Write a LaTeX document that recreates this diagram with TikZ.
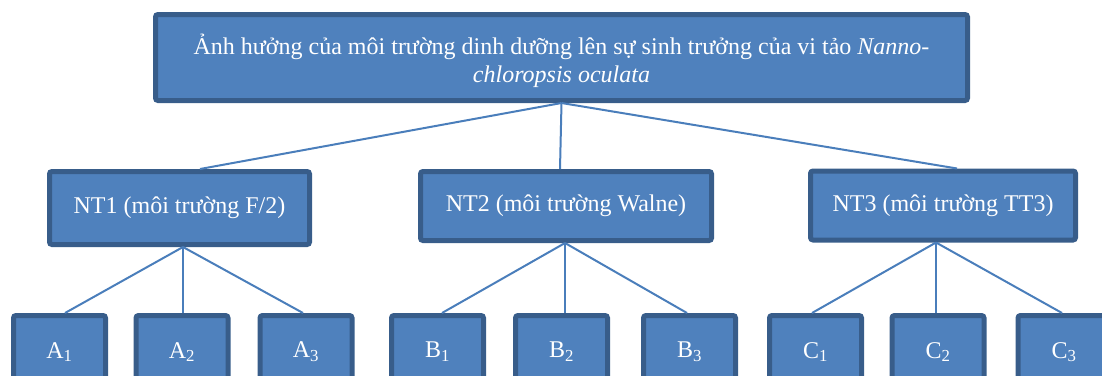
\documentclass[tikz,border=0pt]{standalone}
\usepackage{fontspec}
\setmainfont{Liberation Serif}
\usetikzlibrary{calc}
\definecolor{boxfill}{HTML}{4F81BD}
\definecolor{boxline}{HTML}{385D8A}
\definecolor{connc}{HTML}{4A7EBB}
\tikzset{
  box/.style={draw=boxline, fill=boxfill, line width=5pt, rounded corners=2.5pt,
    text=white, font=\fontsize{24}{28}\selectfont, inner sep=0pt, align=center},
  leaf/.style={box, minimum width=92pt, minimum height=73pt},
  conn/.style={draw=connc, line width=2pt}
}
\begin{document}
\begin{tikzpicture}[x=1pt,y=-1pt]
\useasboundingbox (0,0) rectangle (1102,375);
\clip (0,0) rectangle (1102,375);
\node[box, minimum width=812pt, minimum height=86pt] (top) at (561.5,57.5)
  {\rule{0pt}{27pt}Ảnh hưởng của môi trường dinh dưỡng lên sự sinh trưởng của vi tảo \textit{Nanno-}\\\textit{chloropsis oculata}};
\node[box, minimum width=260pt, minimum height=73pt] (nt1) at (179.5,208) {NT1 (môi trường F/2)};
\node[box, minimum width=291pt, minimum height=69pt] (nt2) at (566,206) {NT2 (môi trường Walne)};
\node[box, minimum width=265pt, minimum height=69pt] (nt3) at (943,205.5) {NT3 (môi trường TT3)};
\node[leaf] (a1) at (59.5,352) {A\textsubscript{1}};
\node[leaf] (a2) at (182,352) {A\textsubscript{2}};
\node[leaf] (a3) at (306,352) {A\textsubscript{3}};
\node[leaf] (b1) at (437.5,352) {B\textsubscript{1}};
\node[leaf] (b2) at (561.5,352) {B\textsubscript{2}};
\node[leaf] (b3) at (689.5,352) {B\textsubscript{3}};
\node[leaf] (c1) at (815.5,352) {C\textsubscript{1}};
\node[leaf] (c2) at (938,352) {C\textsubscript{2}};
\node[leaf] (c3) at (1064,352) {C\textsubscript{3}};
\draw[conn] (top.south) -- ([xshift=20.5pt]nt1.north);
\draw[conn] (top.south) -- ([xshift=-6pt]nt2.north);
\draw[conn] (top.south) -- ([xshift=14pt]nt3.north);
\draw[conn] ([xshift=3.5pt]nt1.south) -- ([xshift=5.5pt]a1.north);
\draw[conn] ([xshift=3.5pt]nt1.south) -- ([xshift=1pt]a2.north);
\draw[conn] ([xshift=3.5pt]nt1.south) -- ([xshift=-3pt]a3.north);
\draw[conn] ([xshift=-1pt]nt2.south) -- ([xshift=4.5pt]b1.north);
\draw[conn] ([xshift=-1pt]nt2.south) -- ([xshift=3.5pt]b2.north);
\draw[conn] ([xshift=-1pt]nt2.south) -- ([xshift=-2.5pt]b3.north);
\draw[conn] ([xshift=-7pt]nt3.south) -- ([xshift=-3.5pt]c1.north);
\draw[conn] ([xshift=-7pt]nt3.south) -- ([xshift=-2pt]c2.north);
\draw[conn] ([xshift=-7pt]nt3.south) -- ([xshift=-2pt]c3.north);
\end{tikzpicture}
\end{document}
